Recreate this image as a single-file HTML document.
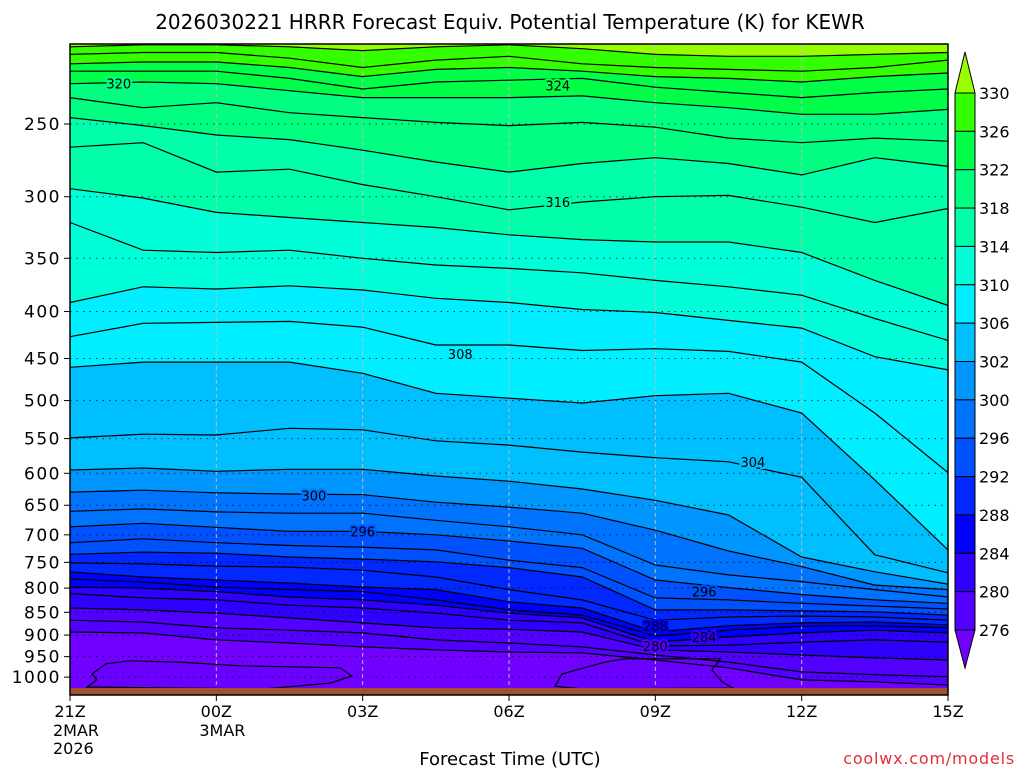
<!DOCTYPE html>
<html><head><meta charset="utf-8">
<style>
html,body{margin:0;padding:0;background:#fff;}
svg text{font-family:"DejaVu Sans","Liberation Sans",sans-serif;}
</style></head>
<body>
<svg id="chart" width="1024" height="768" viewBox="0 0 1024 768" xmlns="http://www.w3.org/2000/svg">
<rect width="1024" height="768" fill="#fff"/>
<text x="510" y="29" font-size="20" text-anchor="middle" fill="#000">2026030221 HRRR Forecast Equiv. Potential Temperature (K) for KEWR</text>
<g id="fills"></g>
<g id="grid"></g>
<g id="lines"></g>
<g id="labels"></g>
<rect x="70" y="688" width="878" height="7" fill="#a0522d"/>
<rect x="70" y="44" width="878" height="651" fill="none" stroke="#000" stroke-width="1.5"/>
<g id="yaxis"></g>
<g id="xaxis"></g>
<text x="510" y="765" font-size="18" text-anchor="middle">Forecast Time (UTC)</text>
<text x="1015" y="764" font-size="16" letter-spacing="0.8" text-anchor="end" fill="#e0303a">coolwx.com/models</text>
<g id="cbar"></g>
</svg>
<script>
// ---- data ----
const hours = [0,1.5,3,4.5,6,7.5,9,10.5,12,13.5,15,16.5,18];
const levels = [330,328,326,324,322,320,318,316,314,312,310,308,306,304,302,300,298,296,294,292,290,288,286,284,282,280,278,276];
const p330 = [206,205,205,206,208,206,205,207,210,211,211,210,209];
const p328 = [210,209,209,212,217,213,211,215,217,218,219,217,213];
const p326 = [215,214,214,217,222,218,217,219,222,223,225,222,220];
const p324 = [219,219,219,223,229,225,224,223,228,231,234,231,229];
const p322 = [226,225,226,230,234,234,234,233,237,240,244,244,241];
const p320 = [234,240,237,243,246,249,251,249,252,259,262,259,261];
const p318 = [246,251,257,260,267,275,282,276,272,276,284,272,278];
const p316 = [265,262,282,280,291,300,310,304,300,299,308,320,309];
const p314 = [294,301,312,316,320,324,330,334,336,336,345,370,394];
const p312 = [320,343,345,343,350,356,359,363,370,376,384,407,430];
const p310 = [391,376,378,375,379,387,391,398,401,409,417,448,463];
const p308 = [426,412,411,410,416,435,435,441,439,442,454,516,599];
const p306 = [460,454,454,454,467,491,497,503,494,491,516,610,727];
const p304 = [549,544,545,536,538,553,559,569,577,583,606,736,770];
const p302 = [595,592,597,594,594,604,612,624,642,666,740,768,792];
const p300 = [629,626,630,632,633,645,653,663,692,729,758,794,803];
const p298 = [660,656,661,663,663,675,686,700,755,774,787,803,818];
const p296 = [686,680,687,694,694,700,711,724,784,799,813,824,831];
const p294 = [714,707,714,719,722,727,746,760,820,824,831,837,843];
const p292 = [735,731,733,740,744,749,760,778,845,845,847,849,856];
const p290 = [751,753,757,759,765,778,803,824,867,860,858,860,867];
const p288 = [768,778,784,790,798,803,828,841,893,879,873,871,877];
const p286 = [782,788,798,803,807,824,845,856,902,889,880,879,884];
const p284 = [798,800,807,818,824,835,852,862,916,904,895,889,895];
const p282 = [811,820,824,835,841,852,867,873,925,923,916,911,916];
const p280 = [841,845,852,862,873,884,887,893,934,939,946,953,958];
const p278 = [867,871,884,889,895,911,918,927,946,963,987,994,999];
const p276 = [893,895,911,918,927,934,939,941,958,977,1007,1012,1020];
const pressures = [p330,p328,p326,p324,p322,p320,p318,p316,p314,p312,p310,p308,p306,p304,p302,p300,p298,p296,p294,p292,p290,p288,p286,p284,p282,p280,p278,p276];
// closed 274 K pockets near surface: [hour, pressure]
const pocket1Hours = [0.35,0.55,0.45,0.74,1.23,2.25,3.48,5.54,5.78,5.33,4.0];
const pocket1Press = [1025,1007,992,967,960,963,972,977,997,1015,1030];
const pocket2Hours = [9.94,10.09,10.97,11.38,13.33,13.16,13.37,13.6,10.5];
const pocket2Press = [1023,992,963,955,955,982,1012,1028,1030];
const pressureTicks = [250,300,350,400,450,500,550,600,650,700,750,800,850,900,950,1000];
const timeTickHours = [0,3,6,9,12,15,18];
const timeTickLabels = ["21Z","00Z","03Z","06Z","09Z","12Z","15Z"];
const cbarLevels = [330,326,322,318,314,310,306,302,300,296,292,288,284,280,276];
const cbarColors = ["#33ff00","#00ff48","#00ff80","#00ffaa","#00ffd8","#00eeff","#00bfff","#0096ff","#0074ff","#0052ff","#0028ff","#0000ff","#3000ff","#5200ff"];
const colorAbove = "#99ff00", colorBelow = "#7000ff";
const contourLabels = [[320,1.0,226],[324,10.0,227],[316,10.0,304],[308,8.0,445],[304,14.0,583],[300,5.0,634],[296,6.0,694],[296,13.0,807],[288,12.0,880],[284,13.0,904],[280,12.0,925]];

// ---- scales ----
const X0=70,X1=948,Y0=44,Y1=695;
const xOf = h => X0 + h*(X1-X0)/18;
const yOf = p => Math.min(Y1, Math.max(Y0, 124 + 399*Math.log(p/250)));
const NS="http://www.w3.org/2000/svg";
function mk(tag, parent){const e=document.createElementNS(NS,tag);parent.appendChild(e);return e;}
function bandColor(t){
  if(t>330) return colorAbove;
  if(t<276) return colorBelow;
  for(let i=0;i<cbarLevels.length-1;i++){ if(t<=cbarLevels[i] && t>cbarLevels[i+1]) return cbarColors[i]; }
  return colorBelow;
}
const fills=document.getElementById('fills'), lines=document.getElementById('lines');
function pts(arr){return hours.map((h,i)=>xOf(h).toFixed(1)+','+yOf(arr[i]).toFixed(1));}
{
  const e=mk('polygon',fills);
  
  
  e.setAttribute('points',[X0+','+Y0,...pts(pressures[0]),X1+','+Y0].join(' '));
  e.setAttribute('fill',colorAbove);
}
for(let k=0;k<pressures.length-1;k++){
  const e=mk('polygon',fills);
  
  
  const a=pts(pressures[k]), b=pts(pressures[k+1]).reverse();
  e.setAttribute('points',a.concat(b).join(' '));
  e.setAttribute('fill',bandColor((levels[k]+levels[k+1])/2));
}
{
  const e=mk('polygon',fills);
  
  
  e.setAttribute('points',pts(p276).concat([X1+','+Y1,X0+','+Y1]).join(' '));
  e.setAttribute('fill',colorBelow);
}
[[pocket1Hours,pocket1Press],[pocket2Hours,pocket2Press]].forEach((pk,j)=>{
  const e=mk('polygon',fills);
  
  
  e.setAttribute('points',pk[0].map((h,i)=>xOf(h).toFixed(1)+','+yOf(pk[1][i]).toFixed(1)).join(' '));
  e.setAttribute('fill','#6a00ff');e.setAttribute('stroke','#000');e.setAttribute('stroke-width','1.2');
});
pressures.forEach((arr,k)=>{
  const e=mk('polyline',lines);
  
  
  e.setAttribute('points',pts(arr).join(' '));
  e.setAttribute('fill','none');e.setAttribute('stroke','#000');e.setAttribute('stroke-width','1.2');
});
const grid=document.getElementById('grid'), yaxis=document.getElementById('yaxis'), xaxis=document.getElementById('xaxis');
pressureTicks.forEach(p=>{
  const y=yOf(p);
  const l=mk('line',grid);
  
  
  l.setAttribute('x1',X0);l.setAttribute('x2',X1);l.setAttribute('y1',y);l.setAttribute('y2',y);
  l.setAttribute('stroke','#000');l.setAttribute('stroke-width','1');l.setAttribute('stroke-dasharray','1.5,5');l.setAttribute('opacity','0.7');
  const t=mk('line',yaxis);
  
  
  t.setAttribute('x1',64);t.setAttribute('x2',70);t.setAttribute('y1',y);t.setAttribute('y2',y);t.setAttribute('stroke','#000');
  const tx=mk('text',yaxis);
  
  
  tx.setAttribute('x',61);tx.setAttribute('y',y+6);tx.setAttribute('font-size','17');tx.setAttribute('letter-spacing','1.5');tx.setAttribute('text-anchor','end');
  tx.textContent=p;
});
timeTickHours.forEach((h,i)=>{
  const x=xOf(h);
  if(i>0 && i<timeTickHours.length-1){
    const l=mk('line',grid);
    
    
    l.setAttribute('x1',x);l.setAttribute('x2',x);l.setAttribute('y1',Y0);l.setAttribute('y2',Y1);
    l.setAttribute('stroke','#bbb');l.setAttribute('stroke-width','1');l.setAttribute('stroke-dasharray','4,3');
  }
  const t=mk('line',xaxis);
  
  
  t.setAttribute('x1',x);t.setAttribute('x2',x);t.setAttribute('y1',Y1);t.setAttribute('y2',Y1+6);t.setAttribute('stroke','#000');
  const tx=mk('text',xaxis);
  
  
  tx.setAttribute('x',x);tx.setAttribute('y',717);tx.setAttribute('font-size','16');tx.setAttribute('text-anchor','middle');
  tx.textContent=timeTickLabels[i];
});
[["2MAR",0,736],["2026",0,754],["3MAR",3,736]].forEach(d=>{
  const tx=mk('text',xaxis);
  
  
  tx.setAttribute('x',xOf(d[1])-17);tx.setAttribute('y',d[2]);tx.setAttribute('font-size','16');
  tx.textContent=d[0];
});
const lab=document.getElementById('labels');
contourLabels.forEach(c=>{
  const tx=mk('text',lab);
  
  
  tx.setAttribute('x',xOf(c[1]));tx.setAttribute('y',yOf(c[2])+5);tx.setAttribute('font-size','13');tx.setAttribute('text-anchor','middle');
  tx.setAttribute('stroke',bandColor(c[0]));tx.setAttribute('stroke-width','4');tx.setAttribute('paint-order','stroke');
  tx.textContent=c[0];
});
const cb=document.getElementById('cbar');
const CBX=955,CBW=20,CBT=93,CBB=630,bh=(CBB-CBT)/cbarColors.length;
{
  const e=mk('polygon',cb);
  
  
  e.setAttribute('points',`${CBX},${CBT} ${CBX+CBW/2},52 ${CBX+CBW},${CBT}`);e.setAttribute('fill',colorAbove);e.setAttribute('stroke','#000');
  const f=mk('polygon',cb);
  
  
  f.setAttribute('points',`${CBX},${CBB} ${CBX+CBW/2},668 ${CBX+CBW},${CBB}`);f.setAttribute('fill',colorBelow);f.setAttribute('stroke','#000');
}
cbarColors.forEach((c,i)=>{
  const r=mk('rect',cb);
  
  
  r.setAttribute('x',CBX);r.setAttribute('y',CBT+i*bh);r.setAttribute('width',CBW);r.setAttribute('height',bh);
  r.setAttribute('fill',c);r.setAttribute('stroke','#000');r.setAttribute('stroke-width','1');
});
cbarLevels.forEach((v,i)=>{
  const tx=mk('text',cb);
  
  
  tx.setAttribute('x',979);tx.setAttribute('y',CBT+i*bh+6);tx.setAttribute('font-size','16');
  tx.textContent=v;
});
</script>
</body></html>
